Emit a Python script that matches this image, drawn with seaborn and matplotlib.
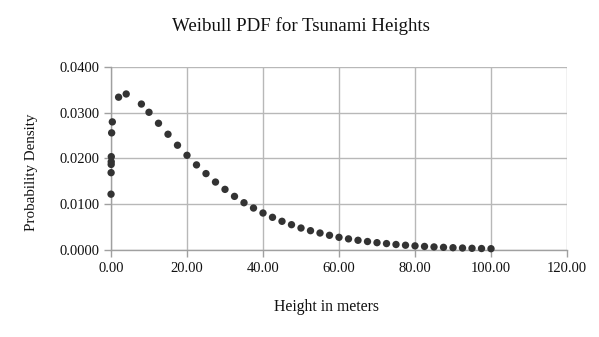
import matplotlib
matplotlib.use("Agg")
import matplotlib.pyplot as plt
import seaborn as sns
import pandas as pd

# Sampled Weibull density for tsunami run-up heights
heights = [0.01, 0.03, 0.05, 0.06, 0.08, 0.17, 0.35, 2.0, 4.0, 8.0,
           10.0, 12.5, 15.0, 17.5, 20.0, 22.5, 25.0, 27.5, 30.0, 32.5,
           35.0, 37.5, 40.0, 42.5, 45.0, 47.5, 50.0, 52.5, 55.0, 57.5,
           60.0, 62.5, 65.0, 67.5, 70.0, 72.5, 75.0, 77.5, 80.0, 82.5,
           85.0, 87.5, 90.0, 92.5, 95.0, 97.5, 100.0]
densities = [0.0122, 0.0169, 0.0187, 0.0193, 0.0204, 0.0256, 0.0280, 0.0334, 0.0341, 0.0319,
             0.0301, 0.0277, 0.0253, 0.0229, 0.0207, 0.0186, 0.0167, 0.01485, 0.01325, 0.01172,
             0.01033, 0.00917, 0.00808, 0.00714, 0.00627, 0.00553, 0.0048, 0.00422, 0.00371, 0.00321,
             0.00277, 0.00243, 0.00212, 0.00185, 0.0016, 0.0014, 0.0012, 0.00104, 0.0009, 0.00078,
             0.00067, 0.00058, 0.0005, 0.00043, 0.00037, 0.00032, 0.00028]

x_ticks = [0, 20, 40, 60, 80, 100, 120]
y_ticks = [0.0, 0.01, 0.02, 0.03, 0.04]

title = "Weibull PDF for Tsunami Heights"
x_label = "Height in meters"
y_label = "Probability Density"

df = pd.DataFrame({"height": heights, "density": densities})

sns.set_style("whitegrid")
plt.rcParams["font.family"] = ["Liberation Serif", "DejaVu Serif"]

fig = plt.figure(figsize=(5.99, 3.37), dpi=100)
ax = fig.add_axes([0.1853, 0.2582, 0.7613, 0.5430])

sns.scatterplot(data=df, x="height", y="density", ax=ax, color="#333333",
                s=28, edgecolor="none", clip_on=False, zorder=3)

ax.set_xlim(0, 120)
ax.set_ylim(0, 0.04)
ax.set_xticks(x_ticks)
ax.set_yticks(y_ticks)
ax.set_xticklabels([f"{v:.2f}" for v in x_ticks])
ax.set_yticklabels([f"{v:.4f}" for v in y_ticks])

ax.grid(True, color="#b8b8b8", linewidth=1.0)
for side in ["top", "right"]:
    ax.spines[side].set_visible(False)
for side in ["left", "bottom"]:
    ax.spines[side].set_color("#a0a0a0")
    ax.spines[side].set_linewidth(1.0)
ax.tick_params(axis="both", which="major", length=5, width=1, color="#a0a0a0",
               labelsize=10.5, labelcolor="#111111", pad=3, direction="out")
ax.tick_params(axis="x", bottom=True, pad=4)
ax.tick_params(axis="y", left=True)

ax.set_xlabel("")
ax.set_ylabel("")
fig.text(0.503, 0.922, title, ha="center", va="center", fontsize=13.6, color="#111111")
fig.text(0.545, 0.09, x_label, ha="center", va="center", fontsize=11.3, color="#111111")
fig.text(0.052, 0.49, y_label, ha="center", va="center", rotation=90, fontsize=10.8,
         color="#111111")

fig.savefig("out.png", dpi=100)
